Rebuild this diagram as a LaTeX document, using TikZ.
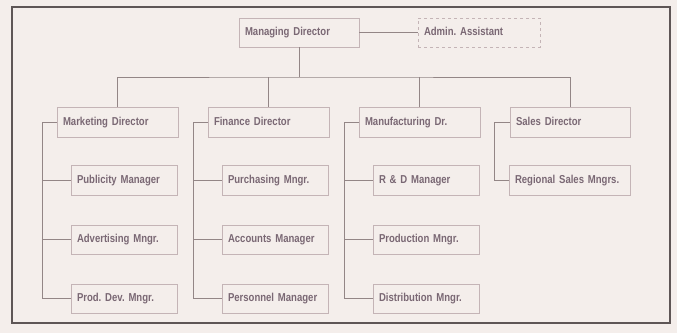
\documentclass[tikz,border=0pt]{standalone}
\usepackage{fontspec}
\setmainfont[FakeStretch=0.83]{Liberation Sans}
\definecolor{bgc}{HTML}{F4EEEB}
\definecolor{boxc}{HTML}{C4B4B6}
\definecolor{txtc}{HTML}{7A6874}
\definecolor{linec}{HTML}{938686}
\definecolor{framec}{HTML}{5E5656}
\tikzset{
  orgbox/.style={draw=boxc, line width=0.9pt, fill=bgc, text=txtc, inner xsep=6pt, inner ysep=0pt,
    align=left, text height=8.5pt, text depth=2.5pt, font=\fontsize{11.5}{13}\selectfont\bfseries},
  conn/.style={draw=linec, line width=0.9pt},
}
\newcommand{\obox}[7][]{%
  \pgfmathsetmacro{\bw}{#5-#3}\pgfmathsetmacro{\bh}{#6-#4}\pgfmathsetmacro{\tw}{#5-#3-12}%
  \node[orgbox,#1, minimum width=\bw pt, minimum height=\bh pt, text width=\tw pt] (#2) at ({(#3+#5)/2},{(#4+#6)/2}) {#7};}
\begin{document}
\begin{tikzpicture}[x=1pt,y=-1pt]
\fill[bgc] (0,0) rectangle (677,333);
\useasboundingbox (0,0) rectangle (677,333);
\draw[framec, line width=1.4pt] (12,7) rectangle (670,323);
% top
\obox{md}{239}{18}{359}{47}{Managing Director}
\obox[dashed]{aa}{418}{18}{540}{47}{Admin.\ Assistant}
% level 2
\obox{mk}{57}{107}{178}{137}{Marketing Director}
\obox{fi}{208}{107}{329}{137}{Finance Director}
\obox{mf}{359}{107}{480}{137}{Manufacturing Dr.}
\obox{sd}{510}{107}{630}{137}{Sales Director}
% marketing children
\obox{pub}{71}{165}{177}{195}{Publicity Manager}
\obox{adv}{71}{225}{177}{254}{Advertising Mngr.}
\obox{pdm}{71}{284}{177}{313}{Prod.\ Dev.\ Mngr.}
% finance children
\obox{pur}{222}{165}{328}{195}{Purchasing Mngr.}
\obox{acc}{222}{225}{328}{254}{Accounts Manager}
\obox{per}{222}{284}{328}{313}{Personnel Manager}
% manufacturing children
\obox{rd}{373}{165}{479}{195}{R \& D Manager}
\obox{pro}{373}{225}{479}{254}{Production Mngr.}
\obox{dis}{373}{284}{479}{313}{Distribution Mngr.}
% sales child
\obox{rsm}{509}{165}{630}{195}{Regional Sales Mngrs.}
% connectors
\coordinate (bus) at (299,77);
\draw[conn] (md.east) -- (aa.west);
\draw[conn] (md.south) -- (bus);
\draw[conn] (mk.north) |- (bus) -| (sd.north);
\draw[conn] (fi.north) -- (fi.north |- bus);
\draw[conn] (mf.north) -- (mf.north |- bus);
\coordinate (smk) at (42,122);
\coordinate (sfi) at (193,122);
\coordinate (smf) at (344,122);
\coordinate (ssd) at (494,122);
\draw[conn] (mk.west) -- (smk) |- (pdm.west);
\draw[conn] (smk |- pub.west) -- (pub.west);
\draw[conn] (smk |- adv.west) -- (adv.west);
\draw[conn] (fi.west) -- (sfi) |- (per.west);
\draw[conn] (sfi |- pur.west) -- (pur.west);
\draw[conn] (sfi |- acc.west) -- (acc.west);
\draw[conn] (mf.west) -- (smf) |- (dis.west);
\draw[conn] (smf |- rd.west) -- (rd.west);
\draw[conn] (smf |- pro.west) -- (pro.west);
\draw[conn] (sd.west) -- (ssd) |- (rsm.west);
\end{tikzpicture}
\end{document}
